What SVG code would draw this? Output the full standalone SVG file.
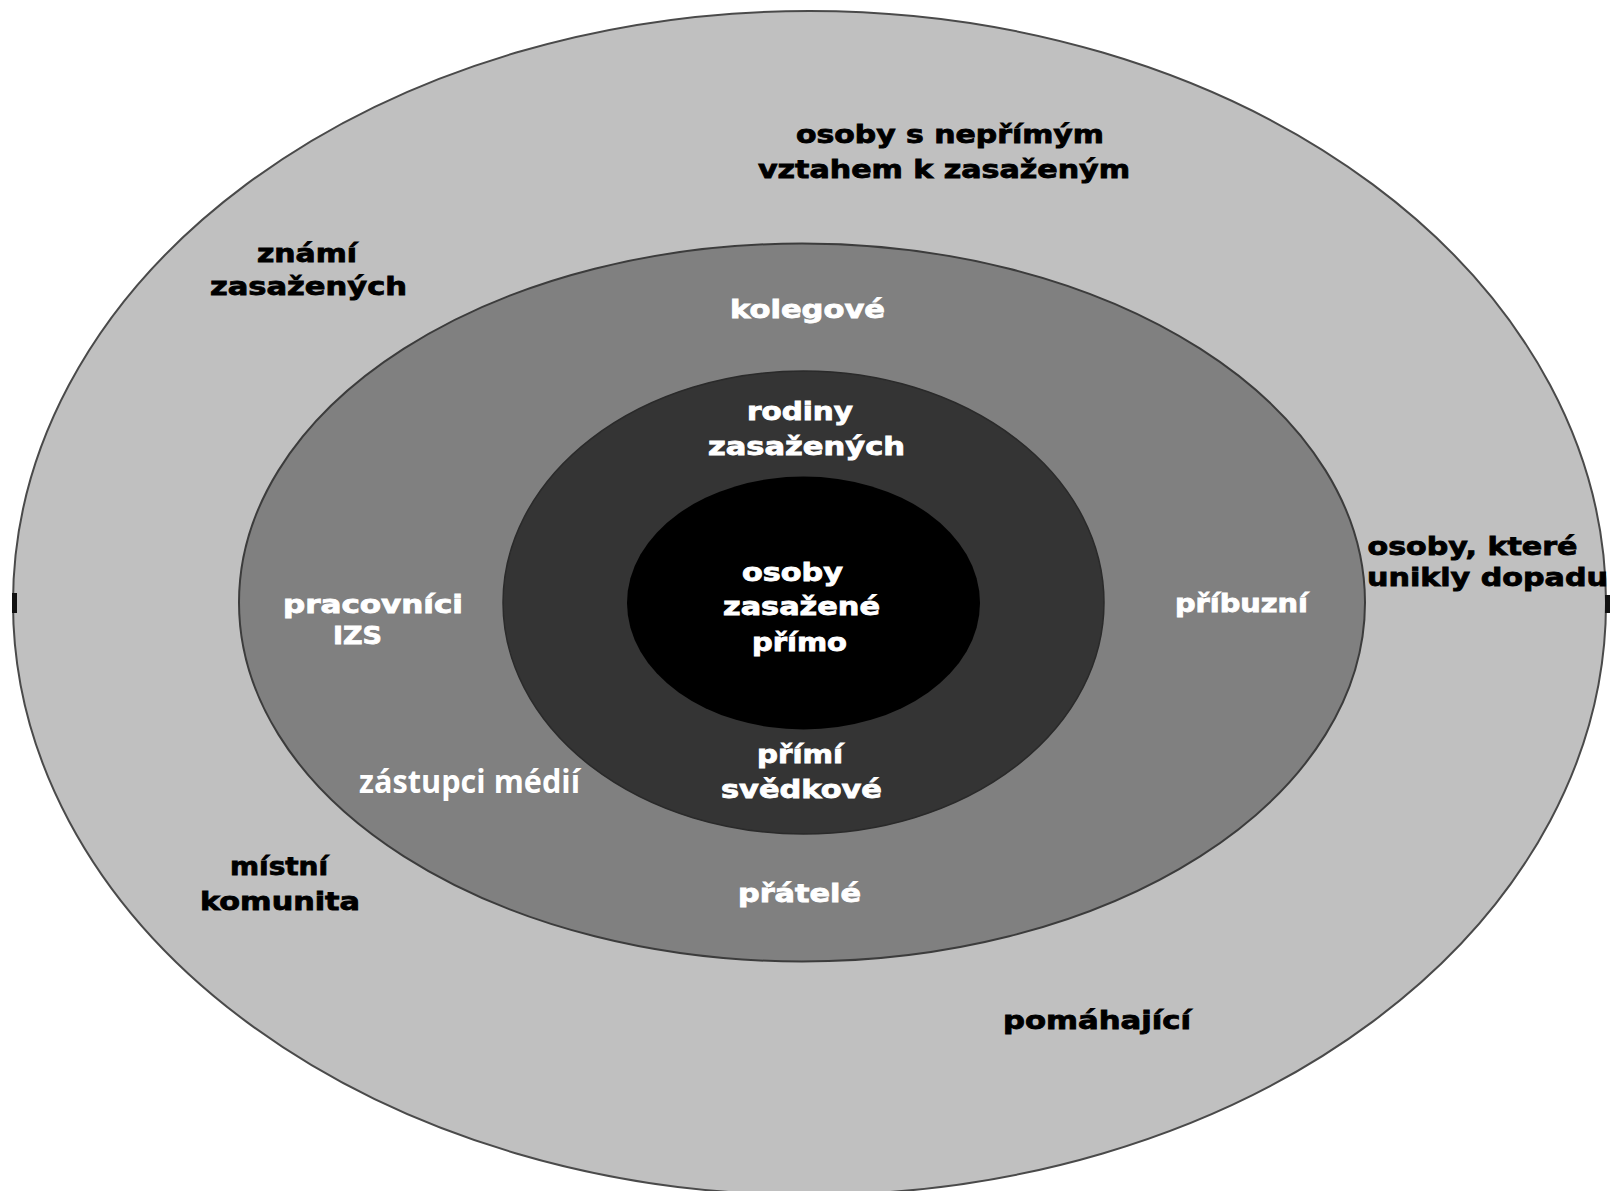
<svg xmlns="http://www.w3.org/2000/svg" width="1611" height="1191" viewBox="0 0 1611 1191">
<style>
.lbl{font-family:"DejaVu Sans","Verdana",sans-serif;font-weight:bold;font-size:24px;text-anchor:middle;stroke-width:0.8px}
.dk{fill:#000;stroke:#000}
.wt{fill:#fff;stroke:#fff}
.media{font-family:"Open Sans","Liberation Sans",sans-serif;font-weight:700;font-size:32px;fill:#fff}
</style>
<rect width="1611" height="1191" fill="#fff"/>
<g id="ring-outer">
<ellipse cx="809.5" cy="603" rx="796.5" ry="592" fill="#c0c0c0" stroke="#4a4a4a" stroke-width="2"/>
<rect x="12" y="593" width="5" height="20" fill="#111"/>
<rect x="1605" y="595" width="5" height="18" fill="#111"/>
</g>
<g id="ring-middle">
<ellipse cx="802" cy="602.5" rx="563" ry="359" fill="#808080" stroke="#3c3c3c" stroke-width="2"/>
</g>
<g id="ring-inner">
<ellipse cx="803.5" cy="602.5" rx="300.5" ry="231.5" fill="#343434" stroke="#2a2a2a" stroke-width="1.5"/>
</g>
<g id="core">
<ellipse cx="803.5" cy="603" rx="176.5" ry="126.5" fill="#000"/>
</g>
<g id="labels-outer">
<text class="lbl dk" x="950" y="143" textLength="308" lengthAdjust="spacingAndGlyphs">osoby s nepřímým</text>
<text class="lbl dk" x="944" y="178" textLength="372" lengthAdjust="spacingAndGlyphs">vztahem k zasaženým</text>
<text class="lbl dk" x="307" y="262" textLength="100" lengthAdjust="spacingAndGlyphs">známí</text>
<text class="lbl dk" x="308.5" y="295" textLength="197" lengthAdjust="spacingAndGlyphs">zasažených</text>
<text class="lbl dk" x="1472.5" y="555" textLength="210" lengthAdjust="spacingAndGlyphs">osoby, které</text>
<text class="lbl dk" x="1487.5" y="586" textLength="241" lengthAdjust="spacingAndGlyphs">unikly dopadu</text>
<text class="lbl dk" x="279" y="875" textLength="98" lengthAdjust="spacingAndGlyphs">místní</text>
<text class="lbl dk" x="280" y="910" textLength="160" lengthAdjust="spacingAndGlyphs">komunita</text>
<text class="lbl dk" x="1097" y="1029" textLength="188" lengthAdjust="spacingAndGlyphs">pomáhající</text>
</g>
<g id="labels-middle">
<text class="lbl wt" x="807.5" y="318" textLength="155" lengthAdjust="spacingAndGlyphs">kolegové</text>
<text class="lbl wt" x="373" y="613" textLength="180" lengthAdjust="spacingAndGlyphs">pracovníci</text>
<text class="lbl wt" x="357.5" y="644" textLength="49" lengthAdjust="spacingAndGlyphs">IZS</text>
<text class="lbl wt" x="1241.5" y="612" textLength="133" lengthAdjust="spacingAndGlyphs">příbuzní</text>
<text class="lbl wt" x="799.5" y="902" textLength="123" lengthAdjust="spacingAndGlyphs">přátelé</text>
<text class="media" x="359" y="793" textLength="221" lengthAdjust="spacingAndGlyphs">zástupci médií</text>
</g>
<g id="labels-inner">
<text class="lbl wt" x="800" y="420" textLength="106" lengthAdjust="spacingAndGlyphs">rodiny</text>
<text class="lbl wt" x="806.5" y="455" textLength="197" lengthAdjust="spacingAndGlyphs">zasažených</text>
<text class="lbl wt" x="800" y="763" textLength="86" lengthAdjust="spacingAndGlyphs">přímí</text>
<text class="lbl wt" x="801.5" y="798" textLength="161" lengthAdjust="spacingAndGlyphs">svědkové</text>
</g>
<g id="labels-core">
<text class="lbl wt" x="792.5" y="581" textLength="101" lengthAdjust="spacingAndGlyphs">osoby</text>
<text class="lbl wt" x="801.5" y="615" textLength="157" lengthAdjust="spacingAndGlyphs">zasažené</text>
<text class="lbl wt" x="799.5" y="651" textLength="95" lengthAdjust="spacingAndGlyphs">přímo</text>
</g>
</svg>
